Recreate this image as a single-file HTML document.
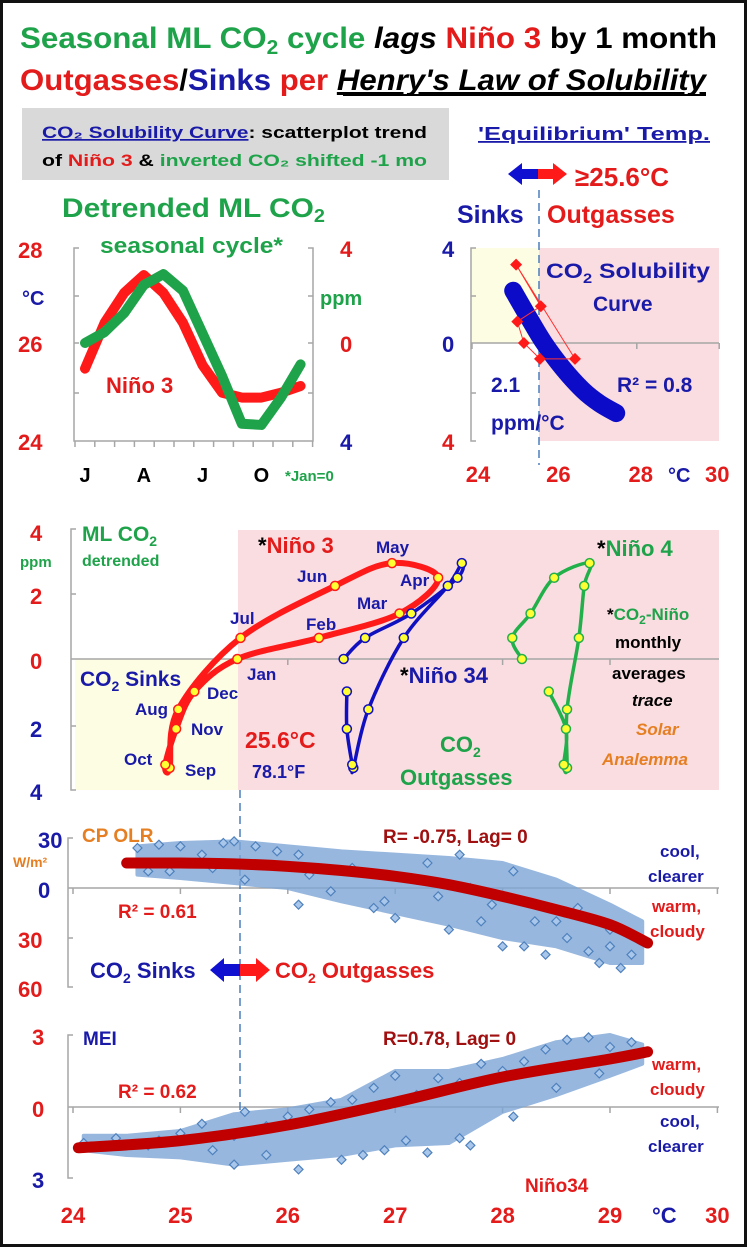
<!DOCTYPE html>
<html><head><meta charset="utf-8"><style>
html,body{margin:0;padding:0;background:#fff}
svg{display:block;font-family:"Liberation Sans",sans-serif;font-weight:bold}
</style></head><body>
<svg id="s" width="747" height="1247" viewBox="0 0 747 1247">
<rect x="1.5" y="1.5" width="744" height="1244" fill="#fff" stroke="#111" stroke-width="3"/>
<text x="20" y="48" font-size="30" textLength="697" lengthAdjust="spacingAndGlyphs"><tspan fill="#1fa34a">Seasonal ML CO</tspan><tspan fill="#1fa34a" font-size="20" dy="6">2</tspan><tspan fill="#1fa34a" dy="-6"> cycle </tspan><tspan fill="#000" font-style="italic">lags </tspan><tspan fill="#e31b1b">Niño 3 </tspan><tspan fill="#000">by 1 month</tspan></text>
<text x="20" y="90" font-size="30" textLength="686" lengthAdjust="spacingAndGlyphs"><tspan fill="#e31b1b">Outgasses</tspan><tspan fill="#000">/</tspan><tspan fill="#1a1aa8">Sinks </tspan><tspan fill="#e31b1b">per </tspan><tspan fill="#000" font-style="italic" text-decoration="underline">Henry's Law of Solubility</tspan></text>
<line x1="343" y1="95" x2="706" y2="95" stroke="#000" stroke-width="2"/>
<rect x="22" y="108" width="427" height="72" fill="#d9d9d9"/>
<text x="42" y="138" font-size="17" textLength="385" lengthAdjust="spacingAndGlyphs"><tspan fill="#1a1aa8" text-decoration="underline">CO₂ Solubility Curve</tspan><tspan fill="#000">: scatterplot trend</tspan></text>
<text x="42" y="166" font-size="17" textLength="385" lengthAdjust="spacingAndGlyphs"><tspan fill="#000">of </tspan><tspan fill="#e31b1b">Niño 3</tspan><tspan fill="#000"> &amp; </tspan><tspan fill="#1fa34a">inverted CO₂ shifted -1 mo</tspan></text>
<text x="478" y="140" font-size="18" fill="#1a1aa8" text-decoration="underline" textLength="232" lengthAdjust="spacingAndGlyphs">'Equilibrium' Temp.</text>
<g>
<polygon points="508,174 522,163 522,169 538,169 538,179 522,179 522,185" fill="#1010d0"/>
<polygon points="567,174 553,163 553,169 538,169 538,179 553,179 553,185" fill="#ff1a1a"/>
</g>
<text x="575" y="186" font-size="26" fill="#e31b1b">≥25.6°C</text>

<text x="62" y="217" font-size="27" fill="#1fa34a" textLength="263" lengthAdjust="spacingAndGlyphs">Detrended ML CO<tspan font-size="18" dy="5">2</tspan></text>
<text x="100" y="253" font-size="22" fill="#1fa34a" textLength="183" lengthAdjust="spacingAndGlyphs">seasonal cycle*</text>
<g id="tl"></g>
<text x="18" y="258" font-size="22" fill="#e31b1b">28</text>
<text x="22" y="305" font-size="20" fill="#1a1aa8">°C</text>
<text x="18" y="352" font-size="22" fill="#e31b1b">26</text>
<text x="18" y="450" font-size="22" fill="#e31b1b">24</text>
<text x="340" y="257" font-size="22" fill="#e31b1b">4</text>
<text x="320" y="305" font-size="20" fill="#1fa34a">ppm</text>
<text x="340" y="352" font-size="22" fill="#e31b1b">0</text>
<text x="340" y="450" font-size="22" fill="#1a1aa8">4</text>
<text x="106" y="393" font-size="22" fill="#e31b1b">Niño 3</text>
<text x="285" y="481" font-size="15" fill="#1fa34a">*Jan=0</text>

<text x="457" y="223" font-size="25" fill="#1a1aa8">Sinks</text>
<text x="547" y="223" font-size="25" fill="#e31b1b">Outgasses</text>
<g id="tr"></g>
<text x="442" y="257" font-size="22" fill="#1a1aa8">4</text>
<text x="442" y="352" font-size="22" fill="#1a1aa8">0</text>
<text x="442" y="450" font-size="22" fill="#e31b1b">4</text>
<text x="546" y="278" font-size="21" fill="#1a1aa8" textLength="164" lengthAdjust="spacingAndGlyphs">CO<tspan font-size="14" dy="5">2</tspan><tspan dy="-5"> Solubility</tspan></text>
<text x="593" y="311" font-size="21" fill="#1a1aa8">Curve</text>
<text x="491" y="392" font-size="21" fill="#1a1aa8">2.1</text>
<text x="491" y="430" font-size="21" fill="#1a1aa8">ppm/°C</text>
<text x="617" y="392" font-size="21" fill="#1a1aa8">R² = 0.8</text>

<g id="mid"></g>
<text x="30" y="541" font-size="22" fill="#e31b1b">4</text>
<text x="20" y="567" font-size="15" fill="#1fa34a">ppm</text>
<text x="30" y="604" font-size="22" fill="#e31b1b">2</text>
<text x="30" y="669" font-size="22" fill="#e31b1b">0</text>
<text x="30" y="737" font-size="22" fill="#1a1aa8">2</text>
<text x="30" y="800" font-size="22" fill="#1a1aa8">4</text>
<text x="82" y="541" font-size="21" fill="#1fa34a">ML CO<tspan font-size="14" dy="5">2</tspan></text>
<text x="82" y="566" font-size="16" fill="#1fa34a">detrended</text>
<text x="258" y="553" font-size="22"><tspan fill="#000">*</tspan><tspan fill="#e31b1b">Niño 3</tspan></text>
<text x="400" y="683" font-size="22"><tspan fill="#000">*</tspan><tspan fill="#1a1aa8">Niño 34</tspan></text>
<text x="597" y="556" font-size="22"><tspan fill="#000">*</tspan><tspan fill="#1fa34a">Niño 4</tspan></text>
<text x="80" y="686" font-size="21" fill="#1a1aa8">CO<tspan font-size="14" dy="5">2</tspan><tspan dy="-5"> Sinks</tspan></text>
<text x="245" y="748" font-size="23" fill="#e31b1b">25.6°C</text>
<text x="252" y="778" font-size="18" fill="#1a1aa8">78.1°F</text>
<text x="440" y="752" font-size="22" fill="#1fa34a">CO<tspan font-size="14" dy="5">2</tspan></text>
<text x="400" y="785" font-size="22" fill="#1fa34a">Outgasses</text>
<text x="607" y="620" font-size="17"><tspan fill="#000">*</tspan><tspan fill="#1fa34a">CO<tspan font-size="12" dy="4">2</tspan><tspan dy="-4">-Niño</tspan></tspan></text>
<text x="615" y="648" font-size="17" fill="#000">monthly</text>
<text x="612" y="679" font-size="17" fill="#000">averages</text>
<text x="632" y="706" font-size="17" fill="#000" font-style="italic">trace</text>
<text x="636" y="735" font-size="17" fill="#e67e22" font-style="italic">Solar</text>
<text x="602" y="765" font-size="17" fill="#e67e22" font-style="italic">Analemma</text>

<g id="bot"></g>
<text x="38" y="848" font-size="22" fill="#1a1aa8">30</text>
<text x="13" y="867" font-size="14" fill="#e67e22">W/m²</text>
<text x="38" y="898" font-size="22" fill="#1a1aa8">0</text>
<text x="18" y="948" font-size="22" fill="#e31b1b">30</text>
<text x="18" y="997" font-size="22" fill="#e31b1b">60</text>
<text x="82" y="842" font-size="19" fill="#e67e22">CP OLR</text>
<text x="383" y="843" font-size="19" fill="#a01010">R= -0.75, Lag= 0</text>
<text x="660" y="857" font-size="17" fill="#1a1aa8">cool,</text>
<text x="648" y="882" font-size="17" fill="#1a1aa8">clearer</text>
<text x="118" y="918" font-size="19" fill="#e31b1b">R² = 0.61</text>
<text x="652" y="912" font-size="17" fill="#e31b1b">warm,</text>
<text x="650" y="937" font-size="17" fill="#e31b1b">cloudy</text>
<text x="90" y="978" font-size="22" fill="#1a1aa8">CO<tspan font-size="14" dy="5">2</tspan><tspan dy="-5"> Sinks</tspan></text>
<g>
<polygon points="210,970 224,958 224,964 240,964 240,976 224,976 224,982" fill="#1010d0"/>
<polygon points="270,970 256,958 256,964 240,964 240,976 256,976 256,982" fill="#ff1a1a"/>
</g>
<text x="275" y="978" font-size="22" fill="#e31b1b">CO<tspan font-size="14" dy="5">2</tspan><tspan dy="-5"> Outgasses</tspan></text>
<text x="32" y="1045" font-size="22" fill="#e31b1b">3</text>
<text x="83" y="1045" font-size="19" fill="#1a1aa8">MEI</text>
<text x="383" y="1045" font-size="19" fill="#a01010">R=0.78, Lag= 0</text>
<text x="652" y="1070" font-size="17" fill="#e31b1b">warm,</text>
<text x="650" y="1095" font-size="17" fill="#e31b1b">cloudy</text>
<text x="118" y="1098" font-size="19" fill="#e31b1b">R² = 0.62</text>
<text x="32" y="1117" font-size="22" fill="#e31b1b">0</text>
<text x="660" y="1127" font-size="17" fill="#1a1aa8">cool,</text>
<text x="648" y="1152" font-size="17" fill="#1a1aa8">clearer</text>
<text x="32" y="1188" font-size="22" fill="#1a1aa8">3</text>
<text x="525" y="1192" font-size="19" fill="#e31b1b">Niño34</text>
<text x="652" y="1223" font-size="22" fill="#1a1aa8">°C</text>
</svg>
<script>
const months=["J","F","M","A","M","J","J","A","S","O","N","D"];
const nino3Temp=[25.5,26.45,27.07,27.44,27.07,26.45,25.57,25.0,24.9,24.9,25.0,25.14];
const co2Seasonal=[0,0.46,1.26,2.44,2.9,2.2,0.4,-1.4,-3.4,-3.45,-2.3,-0.9];
const solDiamT=[25.07,25.67,25.1,25.26,25.65,26.5];
const solDiamP=[3.3,1.55,0.9,0,-0.67,-0.67];
const solCurveT=[25.0,25.4,25.75,26.2,26.7,27.1,27.5];
const solCurveP=[2.2,1.0,0,-1.05,-2.0,-2.55,-2.95];
const monthNames=["Jan","Feb","Mar","Apr","May","Jun","Jul","Aug","Sep","Oct","Nov","Dec"];
const loopPpm=[0,0.65,1.4,2.5,2.95,2.25,0.65,-1.55,-3.35,-3.25,-2.15,-1.0];
const loopN3=[25.53,26.29,27.04,27.40,26.97,26.44,25.56,24.98,24.90,24.86,24.96,25.13];
const loopN34=[26.52,26.72,27.15,27.58,27.62,27.49,27.08,26.75,26.61,26.60,26.55,26.55];
const loopN4=[28.18,28.09,28.26,28.48,28.81,28.76,28.71,28.60,28.60,28.57,28.59,28.43];
const olrTrendT=[24.5,25,25.5,26,26.5,27,27.5,28,28.5,29,29.35];
const olrTrendV=[15,15,14.5,13,10.5,7,2,-5,-13,-22,-33];
const olrBandT=[24.6,25,25.5,26,26.5,27,27.5,28,28.5,29,29.3];
const olrBandHi=[25,27,28,25,22,20,18,15,5,-10,-20];
const olrBandLo=[8,6,3,0,-8,-15,-22,-30,-35,-45,-45];
const olrT=[24.6,24.8,25.0,25.2,25.4,25.5,24.9,25.3,25.7,25.9,26.1,26.2,26.4,26.6,26.8,27.0,27.2,27.4,27.5,27.7,27.8,28.0,28.1,28.3,28.4,28.6,28.7,28.8,28.9,29.0,29.1,29.2,26.1,26.9,27.3,27.9,28.2,27.6,28.5,29.0,24.7,25.6];
const olrV=[24,26,25,20,27,28,10,12,25,22,20,8,-2,12,-12,-18,5,-5,-25,0,-20,-35,10,-20,-40,-30,-12,-38,-45,-25,-48,-40,-10,-8,15,-10,-35,20,-20,-35,10,5];
const meiTrendT=[24.05,25,26,27,28,29,29.35];
const meiTrendV=[-1.7,-1.4,-0.75,0.2,1.25,2.0,2.3];
const meiBandT=[24.1,24.5,25,25.5,26,26.5,27,27.5,28,28.5,29,29.3];
const meiBandHi=[-1.2,-1.2,-1.0,-0.3,-0.1,0.3,1.5,1.5,2.0,2.7,3.0,2.6];
const meiBandLo=[-1.8,-2.0,-2.1,-2.4,-2.2,-2.0,-1.6,-1.5,-0.2,0.5,1.3,1.8];
const meiT=[24.1,24.4,24.7,25.0,25.2,25.5,25.6,25.8,26.0,26.2,26.4,26.6,26.8,27.0,27.2,27.4,27.6,27.8,28.0,28.2,28.4,28.6,28.8,29.0,29.2,25.5,25.8,26.1,26.5,26.9,27.3,27.7,28.1,28.5,28.9,24.8,25.3,26.7,27.1,27.6];
const meiV=[-1.5,-1.3,-1.6,-1.1,-0.7,-1.2,-0.2,-0.8,-0.4,-0.1,0.2,0.3,0.8,1.3,0.5,1.2,1.0,1.8,1.5,1.9,2.4,2.8,2.9,2.5,2.7,-2.4,-2.0,-2.6,-2.2,-1.8,-1.9,-1.6,-0.4,0.8,1.4,-1.4,-1.8,-2.0,-1.4,-1.3];
const xTicks=[24,25,26,27,28,29,30];

const NS="http://www.w3.org/2000/svg";
function mk(par,tag,attrs){const e=document.createElementNS(NS,tag);for(const k in attrs)e.setAttribute(k,attrs[k]);par.appendChild(e);return e;}
const AX="#a6a6a6";
const xM=i=>85+i*19.6, yT=t=>248+(28-t)*48.25, yP=p=>343-p*23.75;
const xT2=t=>472+(t-24)*41.2;
const X=t=>73+(t-24)*107.4, yP3=p=>659-p*32.5;
const yO=v=>888-v*50/30, yMe=v=>1107-v*24;
const pts=(xs,ys,fx,fy)=>xs.map((x,i)=>fx(x)+","+fy(ys[i])).join(" ");
function smooth(P,closed){
 const n=P.length;let d="M"+P[0][0]+","+P[0][1];
 const get=i=>closed?P[(i+n)%n]:P[Math.max(0,Math.min(n-1,i))];
 const segs=closed?n:n-1;
 for(let i=0;i<segs;i++){const p0=get(i-1),p1=get(i),p2=get(i+1),p3=get(i+2);
  const c1=[p1[0]+(p2[0]-p0[0])/6,p1[1]+(p2[1]-p0[1])/6],c2=[p2[0]-(p3[0]-p1[0])/6,p2[1]-(p3[1]-p1[1])/6];
  d+=` C${c1[0]},${c1[1]} ${c2[0]},${c2[1]} ${p2[0]},${p2[1]}`;}
 return d;}

const tl=document.getElementById("tl");
mk(tl,"path",{d:"M79,248H74V441H79M74,296h5M74,343h5M74,393h5M308,248h5V441h-5M308,296h5M308,343h5M308,393h5M74,441H313",stroke:AX,fill:"none","stroke-width":1.5});
for(let i=0;i<=12;i++)mk(tl,"line",{x1:75+i*19.8,y1:441,x2:75+i*19.8,y2:447,stroke:AX,"stroke-width":1.5});
let e=mk(tl,"polyline",{points:nino3Temp.map((t,i)=>xM(i)+","+yT(t)).join(" "),fill:"none",stroke:"#ff1a1a","stroke-width":10,"stroke-linejoin":"round","stroke-linecap":"round"});


e=mk(tl,"polyline",{points:co2Seasonal.map((p,i)=>xM(i)+","+yP(p)).join(" "),fill:"none",stroke:"#1fa34a","stroke-width":10,"stroke-linejoin":"round","stroke-linecap":"round"});


[0,3,6,9].forEach(i=>{const t=mk(tl,"text",{x:xM(i),y:482,"font-size":20,"text-anchor":"middle",fill:"#000"});t.textContent=months[i];

});

const tr=document.getElementById("tr");
mk(tr,"rect",{x:472,y:248,width:67,height:95,fill:"#fdfde3"});
mk(tr,"rect",{x:539,y:248,width:180,height:193,fill:"#fadde0"});
mk(tr,"path",{d:"M476,248H471V441H476M471,296h5M471,393h5M471,343H719",stroke:AX,fill:"none","stroke-width":1.5});
[24,26,28,30].forEach(t=>mk(tr,"line",{x1:xT2(t),y1:343,x2:xT2(t),y2:349,stroke:AX,"stroke-width":1.5}));
mk(tr,"line",{x1:539,y1:190,x2:539,y2:465,stroke:"#4a7ebb","stroke-width":1.5,"stroke-dasharray":"8,5"});
e=mk(tr,"path",{d:smooth(solCurveT.map((t,i)=>[xT2(t),yP(solCurveP[i])]),false),fill:"none",stroke:"#0c0cc8","stroke-width":18,"stroke-linecap":"round","stroke-linejoin":"round"});


mk(tr,"polygon",{points:pts(solDiamT,solDiamP,xT2,yP),fill:"none",stroke:"#ff3030","stroke-width":1});
solDiamT.forEach((t,i)=>{const x=xT2(t),y=yP(solDiamP[i]);const d=mk(tr,"polygon",{points:`${x},${y-6} ${x+6},${y} ${x},${y+6} ${x-6},${y}`,fill:"#ff1a1a"});

});
[24,26,28,30].forEach(t=>{const l=mk(tr,"text",{x:xT2(t)+(t==24?6:t==30?-2:4),y:482,"font-size":22,"text-anchor":"middle",fill:"#e31b1b"});l.textContent=t;

});
mk(tr,"text",{x:668,y:482,"font-size":20,fill:"#1a1aa8"}).textContent="°C";

const mid=document.getElementById("mid");
mk(mid,"rect",{x:238,y:530,width:481,height:260,fill:"#fadde0"});
mk(mid,"rect",{x:75,y:659,width:163,height:131,fill:"#fdfde3"});
mk(mid,"path",{d:"M76,529H71V790H76M71,594h5M71,726h5M71,659H719",stroke:AX,fill:"none","stroke-width":1.5});
[26,28,29].forEach(t=>mk(mid,"line",{x1:X(t),y1:659,x2:X(t),y2:665,stroke:AX,"stroke-width":1.5}));
function loop(temps,color,closed,name){
 const P=temps.map((t,i)=>[X(t),yP3(loopPpm[i])]);
 const l=mk(mid,"path",{d:smooth(P,closed),fill:"none",stroke:color,"stroke-width":color=="#ff1a1a"?6:3.5,"stroke-linejoin":"round"});
 
 
 temps.forEach((t,i)=>{const c=mk(mid,"circle",{cx:X(t),cy:yP3(loopPpm[i]),r:4.5,fill:"#ffff33",stroke:color,"stroke-width":1.5});
 
 });
}
loop(loopN3,"#ff1a1a",true,"nino3-loop");
loop(loopN34,"#1010c0",false,"nino34-loop");
loop(loopN4,"#22b04a",false,"nino4-loop");
const mLab=[[247,680],[306,630],[357,609],[400,586],[376,553],[297,582],[230,624],[135,715],[185,776],[124,765],[191,735],[207,699]];
monthNames.forEach((m,i)=>{const t=mk(mid,"text",{x:mLab[i][0],y:mLab[i][1],"font-size":17,fill:"#1a1aa8"});t.textContent=m;

});

const bot=document.getElementById("bot");
mk(bot,"path",{d:"M73,838H68V987H73M68,938h5M68,888H719",stroke:AX,fill:"none","stroke-width":1.5});
mk(bot,"path",{d:"M73,1035H68V1178H73M68,1107H719",stroke:AX,fill:"none","stroke-width":1.5});
xTicks.forEach(t=>{mk(bot,"line",{x1:X(t),y1:888,x2:X(t),y2:894,stroke:AX,"stroke-width":1.5});mk(bot,"line",{x1:X(t),y1:1107,x2:X(t),y2:1113,stroke:AX,"stroke-width":1.5});
const l=mk(bot,"text",{x:X(t),y:1223,"font-size":22,"text-anchor":"middle",fill:"#e31b1b"});l.textContent=t;

});
mk(bot,"line",{x1:240,y1:790,x2:240,y2:1112,stroke:"#4a7ebb","stroke-width":1.5,"stroke-dasharray":"8,5"});
function band(ts,hi,lo,fy,name){
 const p=ts.map((t,i)=>X(t)+","+fy(hi[i])).concat(ts.slice().reverse().map((t,j)=>X(t)+","+fy(lo[ts.length-1-j]))).join(" ");
 const b=mk(bot,"polygon",{points:p,fill:"#7ea6d6",opacity:0.8,stroke:"#7ea6d6","stroke-width":4,"stroke-linejoin":"round"});
 
 
}
function diamonds(ts,vs,fy){ts.forEach((t,i)=>{const x=X(t),y=fy(vs[i]);const d=mk(bot,"polygon",{points:`${x},${y-4.5} ${x+4.5},${y} ${x},${y+4.5} ${x-4.5},${y}`,fill:"#a9c7ea",stroke:"#4f81bd","stroke-width":1.2});

});}
band(olrBandT,olrBandHi,olrBandLo,yO,"olr-scatter-band");
diamonds(olrT,olrV,yO);
e=mk(bot,"path",{d:smooth(olrTrendT.map((t,i)=>[X(t),yO(olrTrendV[i])]),false),fill:"none",stroke:"#c00000","stroke-width":11,"stroke-linecap":"round","stroke-linejoin":"round"});


band(meiBandT,meiBandHi,meiBandLo,yMe,"mei-scatter-band");
diamonds(meiT,meiV,yMe);
e=mk(bot,"path",{d:smooth(meiTrendT.map((t,i)=>[X(t),yMe(meiTrendV[i])]),false),fill:"none",stroke:"#c00000","stroke-width":11,"stroke-linecap":"round","stroke-linejoin":"round"});


</script>
</body></html>
